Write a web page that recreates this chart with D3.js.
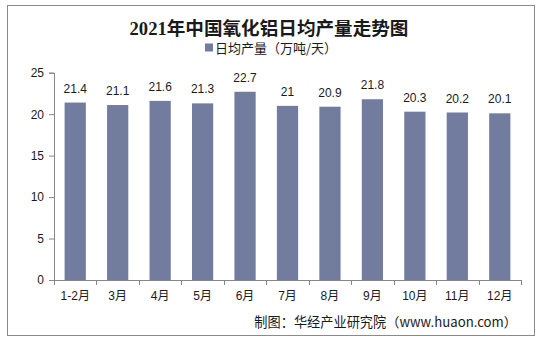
<!DOCTYPE html>
<html>
<head>
<meta charset="utf-8">
<script src="https://cdn.jsdelivr.net/npm/d3@7/dist/d3.min.js"></script>
<style>
  html, body { margin: 0; padding: 0; background: #fff; }
  svg { display: block; }
</style>
</head>
<body>
<svg id="chart" width="542" height="342"></svg>
<script>
// Monthly average daily alumina output, 2021 (10k tonnes/day)
const months = ["1-2月", "3月", "4月", "5月", "6月", "7月", "8月", "9月", "10月", "11月", "12月"];
const dailyOutput = [21.4, 21.1, 21.6, 21.3, 22.7, 21, 20.9, 21.8, 20.3, 20.2, 20.1];
const yTicks = [0, 5, 10, 15, 20, 25];

const titleText = "2021年中国氧化铝日均产量走势图";
const legendText = "日均产量（万吨/天）";
const sourceText = "制图：华经产业研究院（www.huaon.com）";

const barColor = "#717c9f";
const axisColor = "#868686";
const textColor = "#1a1a1a";
const latin = "'Liberation Sans', Arial, 'Noto Sans CJK SC', sans-serif";

const svg = d3.select("#chart");

// outer frame
svg.append("rect")
  .attr("x", 7.5).attr("y", 5.5)
  .attr("width", 527).attr("height", 330)
  .attr("fill", "#fff")
  .attr("stroke", "#8a8a8a").attr("stroke-width", 1);

const plot = { left: 54, right: 521, top: 72.7, bottom: 280 };

const x = d3.scaleBand()
  .domain(months)
  .range([plot.left, plot.right])
  .paddingInner(0.5)
  .paddingOuter(0.25);

const y = d3.scaleLinear()
  .domain([0, 25])
  .range([plot.bottom, plot.top]);

// title
svg.append("text")
  .attr("x", 269).attr("y", 35)
  .attr("text-anchor", "middle")
  .attr("font-family", "'Liberation Serif', 'Noto Sans CJK SC', serif")
  .attr("font-weight", "bold")
  .attr("font-size", 18.6)
  .attr("fill", textColor)
  .text(titleText);

// legend
const legend = svg.append("g").attr("transform", "translate(205,48)");
legend.append("rect")
  .attr("x", 0).attr("y", -4.5)
  .attr("width", 8).attr("height", 8)
  .attr("fill", barColor);
legend.append("text")
  .attr("x", 10).attr("y", 0)
  .attr("dy", "0.35em")
  .attr("font-family", "'Noto Sans CJK SC', sans-serif")
  .attr("font-size", 13)
  .attr("fill", textColor)
  .text(legendText);

// y axis
const yAxis = svg.append("g")
  .attr("transform", `translate(${plot.left},0)`)
  .call(d3.axisLeft(y).tickValues(yTicks).tickSize(5).tickPadding(5).tickFormat(d3.format("d")));
yAxis.select(".domain").attr("stroke", axisColor);
yAxis.selectAll(".tick line").attr("stroke", axisColor);
yAxis.selectAll(".tick text")
  .attr("font-family", latin)
  .attr("font-size", 12)
  .attr("fill", textColor);

// x axis with ticks on category boundaries
const xAxisG = svg.append("g").attr("transform", `translate(0,${plot.bottom})`);
xAxisG.append("line")
  .attr("x1", plot.left).attr("x2", plot.right)
  .attr("y1", 0.5).attr("y2", 0.5)
  .attr("stroke", axisColor);
const boundaries = d3.range(months.length + 1).map(i => plot.left + i * (plot.right - plot.left) / months.length);
xAxisG.selectAll("line.bound")
  .data(boundaries)
  .join("line")
  .attr("class", "bound")
  .attr("x1", d => Math.round(d) + 0.5).attr("x2", d => Math.round(d) + 0.5)
  .attr("y1", 0).attr("y2", 5)
  .attr("stroke", axisColor);
xAxisG.selectAll("text.cat")
  .data(months)
  .join("text")
  .attr("class", "cat")
  .attr("x", d => x(d) + x.bandwidth() / 2)
  .attr("y", 20)
  .attr("text-anchor", "middle")
  .attr("font-family", latin)
  .attr("font-size", 12)
  .attr("fill", textColor)
  .text(d => d);

// bars
svg.append("g").selectAll("rect")
  .data(months.map((m, i) => ({ m, v: dailyOutput[i] })))
  .join("rect")
  .attr("x", d => x(d.m))
  .attr("y", d => y(d.v))
  .attr("width", x.bandwidth())
  .attr("height", d => y(0) - y(d.v))
  .attr("fill", barColor);

// value labels
svg.append("g").selectAll("text")
  .data(months.map((m, i) => ({ m, v: dailyOutput[i] })))
  .join("text")
  .attr("x", d => x(d.m) + x.bandwidth() / 2)
  .attr("y", d => y(d.v) - 10)
  .attr("text-anchor", "middle")
  .attr("font-family", latin)
  .attr("font-size", 12)
  .attr("fill", textColor)
  .text(d => d.v);

// source note
svg.append("text")
  .attr("x", 517).attr("y", 327)
  .attr("text-anchor", "end")
  .attr("font-family", "'Noto Sans CJK SC', sans-serif")
  .attr("font-size", 13.2)
  .attr("fill", textColor)
  .text(sourceText);
</script>
</body>
</html>
